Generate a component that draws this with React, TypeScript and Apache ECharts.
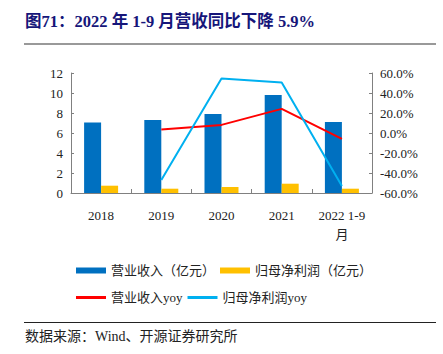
import React, { useEffect, useRef } from "react";
import * as echarts from "echarts";

const categories = ["2018", "2019", "2020", "2021", "2022 1-9\n月"];
const revenue = [7.05, 7.3, 7.9, 9.8, 7.1];
const netProfit = [0.73, 0.43, 0.6, 0.93, 0.43];
const revenueYoy = [null, 3.6, 8.1, 24.1, -5.9];
const profitYoy = [null, -47, 54.5, 50.5, -53];
const leftTicks = [0, 2, 4, 6, 8, 10, 12];

const FONT = "'Liberation Serif', 'Noto Sans CJK SC', serif";

export default function App() {
  const ref = useRef<HTMLDivElement>(null);
  useEffect(() => {
    const chart = echarts.init(ref.current!, null, { renderer: "svg" });
    chart.setOption({
      animation: false,
      backgroundColor: "#fff",
      textStyle: { fontFamily: FONT },
      graphic: [
        {
          type: "text",
          left: 25,
          top: 13,
          style: {
            text: "图71：2022 年 1-9 月营收同比下降 5.9%",
            fontSize: 16.5,
            fontWeight: "bold",
            fill: "#16167a",
            fontFamily: FONT,
          },
        },
        { type: "line", shape: { x1: 24, y1: 44, x2: 436, y2: 44 }, style: { stroke: "#999", lineWidth: 2 } },
        { type: "line", shape: { x1: 24, y1: 322.5, x2: 436, y2: 322.5 }, style: { stroke: "#222", lineWidth: 1 } },
        {
          type: "text",
          left: 25,
          top: 329,
          style: { text: "数据来源：Wind、开源证券研究所", fontSize: 14, fill: "#222", fontFamily: FONT },
        },
      ],
      legend: [
        {
          left: 71,
          top: 259,
          itemWidth: 30,
          itemHeight: 6,
          itemGap: 5,
          icon: "rect",
          textStyle: { fontSize: 13, color: "#222", width: 129, fontFamily: FONT },
          data: ["营业收入（亿元）", "归母净利润（亿元）"],
        },
        {
          left: 71,
          top: 286,
          itemWidth: 30,
          itemHeight: 3,
          itemGap: 5,
          icon: "rect",
          textStyle: { fontSize: 13, color: "#222", width: 129, fontFamily: FONT },
          data: ["营业收入yoy", "归母净利润yoy"],
        },
      ],
      grid: { left: 71, right: 71, top: 73, bottom: 161 },
      xAxis: {
        type: "category",
        data: categories,
        axisLine: { lineStyle: { color: "#808080", width: 1 } },
        axisTick: { show: true, inside: true, length: 4, lineStyle: { color: "#808080" } },
        axisLabel: { interval: 0, fontSize: 13, color: "#222", margin: 13, lineHeight: 19, fontFamily: FONT },
      },
      yAxis: [
        {
          type: "value",
          min: 0,
          max: 12,
          interval: 2,
          splitLine: { show: false },
          axisLine: { show: true, lineStyle: { color: "#808080" } },
          axisTick: { show: true, inside: true, length: 3, lineStyle: { color: "#808080" } },
          axisLabel: { fontSize: 13, color: "#222", margin: 8, fontFamily: FONT, formatter: (v: number) => (leftTicks.includes(v) ? String(v) : "") },
        },
        {
          type: "value",
          min: -60,
          max: 60,
          interval: 20,
          splitLine: { show: false },
          axisLine: { show: true, lineStyle: { color: "#808080" } },
          axisTick: { show: true, inside: true, length: 3, lineStyle: { color: "#808080" } },
          axisLabel: { fontSize: 13, color: "#222", margin: 8, fontFamily: FONT, formatter: (v: number) => v.toFixed(1) + "%" },
        },
      ],
      series: [
        {
          name: "营业收入（亿元）",
          type: "bar",
          data: revenue,
          barWidth: 17,
          barGap: "0%",
          itemStyle: { color: "#0070C0" },
        },
        {
          name: "归母净利润（亿元）",
          type: "bar",
          data: netProfit,
          barWidth: 17,
          barGap: "0%",
          itemStyle: { color: "#FFC000" },
        },
        {
          name: "营业收入yoy",
          type: "line",
          yAxisIndex: 1,
          data: revenueYoy,
          symbol: "none",
          lineStyle: { color: "#FF0000", width: 2 },
          itemStyle: { color: "#FF0000" },
        },
        {
          name: "归母净利润yoy",
          type: "line",
          yAxisIndex: 1,
          data: profitYoy,
          symbol: "none",
          lineStyle: { color: "#00B0F0", width: 2 },
          itemStyle: { color: "#00B0F0" },
        },
      ],
    });
    return () => chart.dispose();
  }, []);
  return <div ref={ref} style={{ width: 443, height: 354, position: "absolute", left: 0, top: 0 }} />;
}
